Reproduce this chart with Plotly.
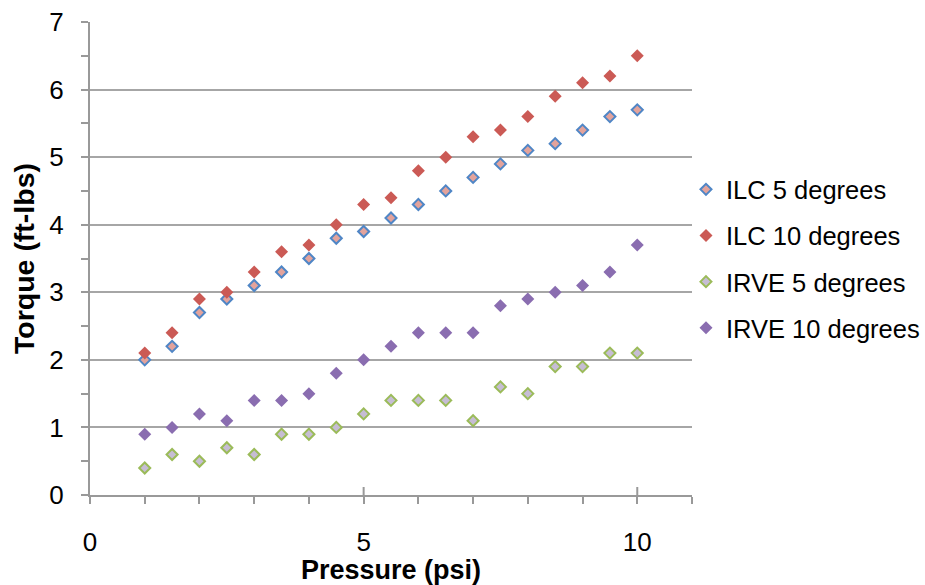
import plotly.graph_objects as go

pressure = [1, 1.5, 2, 2.5, 3, 3.5, 4, 4.5, 5, 5.5, 6, 6.5, 7, 7.5, 8, 8.5, 9, 9.5, 10]
ilc5 = [2.0, 2.2, 2.7, 2.9, 3.1, 3.3, 3.5, 3.8, 3.9, 4.1, 4.3, 4.5, 4.7, 4.9, 5.1, 5.2, 5.4, 5.6, 5.7]
ilc10 = [2.1, 2.4, 2.9, 3.0, 3.3, 3.6, 3.7, 4.0, 4.3, 4.4, 4.8, 5.0, 5.3, 5.4, 5.6, 5.9, 6.1, 6.2, 6.5]
irve5 = [0.4, 0.6, 0.5, 0.7, 0.6, 0.9, 0.9, 1.0, 1.2, 1.4, 1.4, 1.4, 1.1, 1.6, 1.5, 1.9, 1.9, 2.1, 2.1]
irve10 = [0.9, 1.0, 1.2, 1.1, 1.4, 1.4, 1.5, 1.8, 2.0, 2.2, 2.4, 2.4, 2.4, 2.8, 2.9, 3.0, 3.1, 3.3, 3.7]
names = ["ILC 5 degrees", "ILC 10 degrees", "IRVE 5 degrees", "IRVE 10 degrees"]

FONT = "Liberation Sans, Arial, sans-serif"
fig = go.Figure()
styles = [
    dict(color="#E3A39C", line=dict(color="#4F86C6", width=2)),
    dict(color="#CB5A55", line=dict(color="#CB5A55", width=0)),
    dict(color="#C6BDD4", line=dict(color="#9BBB59", width=2)),
    dict(color="#8A6DB0", line=dict(color="#8A6DB0", width=0)),
]
for i, (nm, ys) in enumerate(zip(names, [ilc5, ilc10, irve5, irve10])):
    fig.add_trace(go.Scatter(
        x=pressure, y=ys, mode="markers", name=nm, legendgroup=str(i),
        marker=dict(symbol="diamond", size=10 if styles[i]["line"]["width"] == 0 else 8.5, **styles[i]),
    ))

# upward part of the crossing major ticks on x axis
for xv in [5, 10]:
    fig.add_shape(type="line", xref="x", yref="y", ysizemode="pixel", yanchor=0,
                  x0=xv, x1=xv, y0=0, y1=8, line=dict(color="#999999", width=2))

fig.update_layout(
    width=925, height=585,
    margin=dict(l=90, r=233, t=22, b=90, autoexpand=False),
    plot_bgcolor="white", paper_bgcolor="white",
    font=dict(family=FONT, size=26, color="black"),
    showlegend=True,
    legend=dict(x=0.99, xanchor="left", y=0.695, yanchor="top",
                font=dict(size=25.5), tracegroupgap=10, itemwidth=30,
                bgcolor="rgba(0,0,0,0)"),
    xaxis=dict(
        range=[0, 11], tickvals=[0, 5, 10], ticks="outside", ticklen=7, tickwidth=2,
        tickcolor="#999999", showline=True, linecolor="#999999", linewidth=2,
        showgrid=False, zeroline=False, ticklabelstandoff=16, automargin=False,
        minor=dict(dtick=1, ticks="outside", ticklen=7, tickwidth=2, tickcolor="#999999", showgrid=False),
        title=dict(text="<b>Pressure (psi)</b>", font=dict(size=27), standoff=0),
    ),
    yaxis=dict(
        range=[0, 7], dtick=1, ticks="outside", ticklen=7, tickwidth=2,
        tickcolor="#999999", showline=True, linecolor="#999999", linewidth=2,
        showgrid=True, gridcolor="#A6A6A6", gridwidth=2, zeroline=False,
        ticklabelstandoff=12, automargin=False,
        minor=dict(dtick=0.5, ticks="outside", ticklen=7, tickwidth=2, tickcolor="#999999", showgrid=False),
        title=dict(text="<b>Torque (ft-lbs)</b>", font=dict(size=28.5), standoff=6),
    ),
)
fig.write_html("out.html")
